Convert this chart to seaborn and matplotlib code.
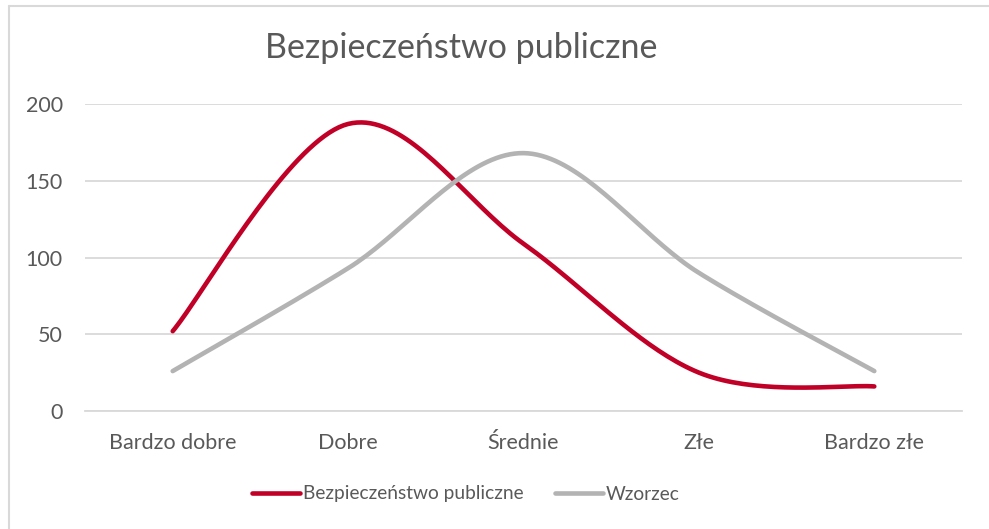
import numpy as np
import pandas as pd
import matplotlib
matplotlib.use("Agg")
import matplotlib.pyplot as plt
import seaborn as sns
from matplotlib.lines import Line2D

categories = ["Bardzo dobre", "Dobre", "Średnie", "Złe", "Bardzo złe"]
bezpieczenstwo = [52, 187, 109, 25, 16]
wzorzec = [26, 93, 168, 90, 26]
y_ticks = [0, 50, 100, 150, 200]

red = "#C00026"
grey = "#B3B3B3"
text_col = "#595959"


def smooth(y, n=40):
    # Excel-style smoothed line: cubic Bezier through points, tension 1/6
    y = np.asarray(y, dtype=float)
    x = np.arange(len(y), dtype=float)
    px = np.concatenate([[x[0]], x, [x[-1]]])
    py = np.concatenate([[y[0]], y, [y[-1]]])
    xs, ys = [], []
    t = np.linspace(0, 1, n)
    for i in range(len(y) - 1):
        p0 = np.array([px[i + 1], py[i + 1]])
        p3 = np.array([px[i + 2], py[i + 2]])
        c1 = p0 + (np.array([px[i + 2], py[i + 2]]) - np.array([px[i], py[i]])) / 6
        c2 = p3 - (np.array([px[i + 3], py[i + 3]]) - np.array([px[i + 1], py[i + 1]])) / 6
        b = ((1 - t) ** 3)[:, None] * p0 + (3 * (1 - t) ** 2 * t)[:, None] * c1 \
            + (3 * (1 - t) * t ** 2)[:, None] * c2 + (t ** 3)[:, None] * p3
        xs.extend(b[:, 0])
        ys.extend(b[:, 1])
    return np.array(xs), np.array(ys)


sns.set_theme(style="white")
plt.rcParams["font.family"] = ["Lato", "DejaVu Sans"]

fig = plt.figure(figsize=(9.89, 5.29), dpi=100)
ax = fig.add_axes([85 / 989, 1 - 411 / 529, (962 - 85) / 989, (411 - 104) / 529])

frames = []
for name, vals in [("Bezpieczeństwo publiczne", bezpieczenstwo), ("Wzorzec", wzorzec)]:
    sx, sy = smooth(vals)
    frames.append(pd.DataFrame({"x": sx, "y": sy, "serie": name}))
df = pd.concat(frames, ignore_index=True)

sns.lineplot(data=df, x="x", y="y", hue="serie", sort=False, estimator=None,
             palette=[red, grey], linewidth=3.3, ax=ax, legend=False,
             solid_capstyle="round")

ax.set_xlim(-0.5, len(categories) - 0.5)
ax.set_ylim(0, 200)
ax.set_yticks(y_ticks)
ax.set_xticks(range(len(categories)))
ax.set_xticklabels(categories)
ax.yaxis.grid(True, color="#D9D9D9", linewidth=1.3)
for s in ["top", "right", "left"]:
    ax.spines[s].set_visible(False)
ax.spines["bottom"].set_color("#D9D9D9")
ax.spines["bottom"].set_linewidth(1.3)
ax.tick_params(axis="both", length=0, labelsize=15.5, labelcolor=text_col)
ax.tick_params(axis="x", pad=16)
ax.tick_params(axis="y", pad=16)
ax.set_xlabel("")
ax.set_ylabel("")

fig.text(461 / 989, 1 - 48 / 529, "Bezpieczeństwo publiczne", ha="center", va="center",
         fontsize=24.5, color=text_col)

handles = [Line2D([], [], color=red, linewidth=3.3, solid_capstyle="round"),
           Line2D([], [], color=grey, linewidth=3.3, solid_capstyle="round")]
fig.legend(handles, ["Bezpieczeństwo publiczne", "Wzorzec"], loc="center",
           bbox_to_anchor=(466 / 989, 1 - 494 / 529), ncol=2, frameon=False,
           fontsize=13.8, labelcolor=text_col, handlelength=2.5, handletextpad=0.15,
           columnspacing=1.65)

# outer chart border (top and left edges visible)
fig.add_artist(Line2D([9 / 989, 9 / 989], [0, 1 - 6 / 529], color="#D9D9D9", linewidth=1.5))
fig.add_artist(Line2D([9 / 989, 1], [1 - 6 / 529, 1 - 6 / 529], color="#D9D9D9", linewidth=1.5))

fig.savefig("out.png", dpi=100, facecolor="white")
